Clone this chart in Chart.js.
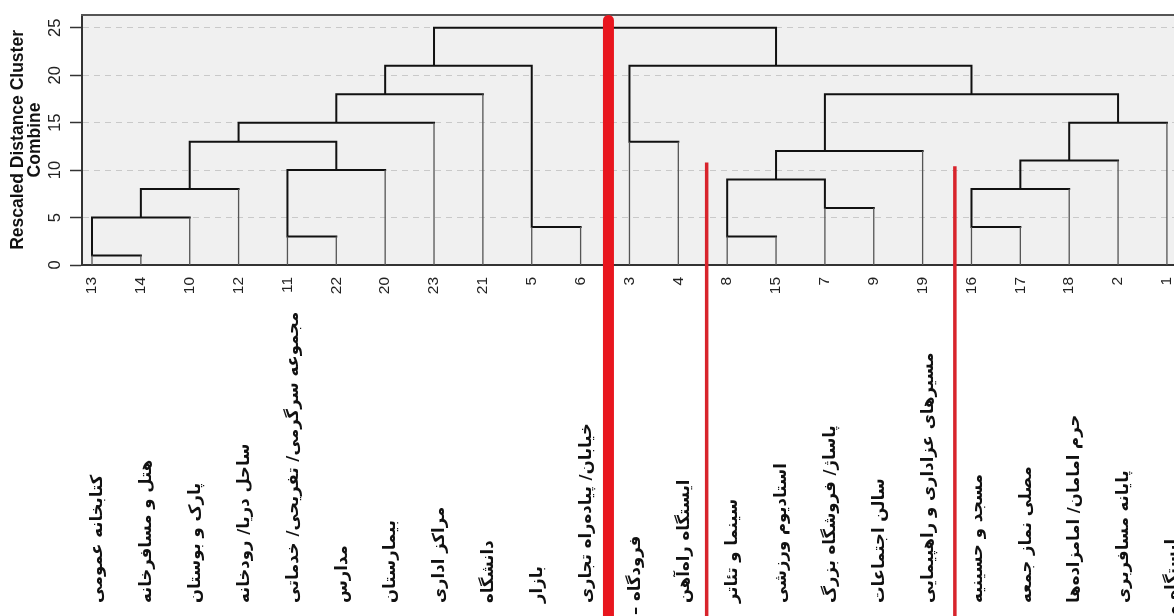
<!DOCTYPE html>
<html>
<head>
<meta charset="utf-8">
<script src="https://cdn.jsdelivr.net/npm/chart.js@4/dist/chart.umd.min.js"></script>
<style>
html,body{margin:0;padding:0;overflow:hidden;background:#fff;width:1174px;height:616px}
#wrap{width:1200px;height:616px}
</style>
</head>
<body>
<div id="wrap"><canvas id="c" width="1200" height="616"></canvas></div>
<script>
// ---- data (leaf order left to right) ----
const leafNumbers = ['13','14','10','12','11','22','20','23','21','5','6','3','4','8','15','7','9','19','16','17','18','2','1'];
const leafNames = [
  'کتابخانه عمومی',
  'هتل و مسافرخانه',
  'پارک و بوستان',
  'ساحل دریا/ رودخانه',
  'مجموعه سرگرمی/ تفریحی/ خدماتی',
  'مدارس',
  'بیمارستان',
  'مراکز اداری',
  'دانشگاه',
  'بازار',
  'خیابان/ پیاده‌راه تجاری',
  'فرودگاه –',
  'ایستگاه راه‌آهن',
  'سینما و تئاتر',
  'استادیوم ورزشی',
  'پاساژ/ فروشگاه بزرگ',
  'سالن اجتماعات',
  'مسیرهای عزاداری و راهپیمایی',
  'مسجد و حسینیه',
  'مصلی نماز جمعه',
  'حرم امامان/ امامزاده‌ها',
  'پایانه مسافربری',
  'ایستگاه مترو'
];
// merges: left/right child position (leaf-order units), child heights, merge height
const mergeLeftX  = [0,0,1,4,4,2,3,5,9,6,7,11,13,15,13,14,18,18,19,20,15,11];
const mergeLeftH  = [0,1,5,0,3,8,13,15,0,18,21,0,0,0,3,9,0,4,8,11,12,13];
const mergeRightX = [1,2,3,5,6,5,7,8,10,9,14,12,14,16,15,17,19,20,21,22,21,18];
const mergeRightH = [0,0,0,0,0,10,0,0,0,4,21,0,0,0,6,0,0,0,0,0,15,18];
const mergeHeight = [1,5,8,3,10,13,15,18,4,21,25,13,3,6,9,12,4,8,11,15,18,21];
const yTickValues = [0,5,10,15,20,25];
// red cut lines (x in leaf-order units, top in distance units)
const cutX   = [10.57, 12.58, 17.66];
const cutTop = [26.35, 10.8, 10.4];

// ---- build line data ----
const GAP = {x:null, y:null};
const links = [], stems = [];
for (let k = 0; k < mergeHeight.length; k++) {
  const xl = mergeLeftX[k], hl = mergeLeftH[k], xr = mergeRightX[k], hr = mergeRightH[k], h = mergeHeight[k];
  if (hl > 0) links.push({x:xl, y:hl});
  links.push({x:xl, y:h}, {x:xr, y:h});
  if (hr > 0) links.push({x:xr, y:hr});
  links.push(GAP);
  if (hl === 0) stems.push({x:xl, y:0}, {x:xl, y:h}, GAP);
  if (hr === 0) stems.push({x:xr, y:0}, {x:xr, y:h}, GAP);
}

const FONT = 'Liberation Sans, Arial, sans-serif';
const cutStyle = [
  {color:'#e8161e', width:11, cap:'round'},
  {color:'#d8242c', width:3.5, cap:'butt'},
  {color:'#d8242c', width:3.5, cap:'butt'}
];
const nameShift = {11: 12, 22: 40};

const deco = {
  id: 'deco',
  beforeDraw(chart) {
    const {ctx, chartArea: a} = chart;
    ctx.save();
    ctx.fillStyle = '#f0f0f0';
    ctx.fillRect(a.left, a.top, a.right - a.left, a.bottom - a.top);
    ctx.restore();
  },
  afterDraw(chart) {
    const {ctx, chartArea: a} = chart;
    const xs = chart.scales.x, ys = chart.scales.y;
    ctx.save();
    // top border
    ctx.strokeStyle = '#555';
    ctx.lineWidth = 2;
    ctx.beginPath();
    ctx.moveTo(a.left - 1, a.top);
    ctx.lineTo(a.right, a.top);
    ctx.stroke();
    // leaf names
    ctx.font = 'bold 16.5px "DejaVu Sans"';
    ctx.fillStyle = '#111';
    ctx.direction = 'rtl';
    ctx.textAlign = 'left';
    ctx.textBaseline = 'middle';
    const baseY = chart.height - 13;
    leafNames.forEach((name, i) => {
      const x = xs.getPixelForValue(i) + 6;
      ctx.save();
      ctx.translate(x, baseY + (nameShift[i] || 0));
      ctx.rotate(-Math.PI / 2);
      ctx.fillText(name, 0, 0);
      ctx.restore();
    });
    // red cut lines
    cutX.forEach((v, k) => {
      const st = cutStyle[k];
      const x = xs.getPixelForValue(v);
      let y0 = ys.getPixelForValue(cutTop[k]);
      if (st.cap === 'round') y0 += st.width / 2;
      ctx.strokeStyle = st.color;
      ctx.lineWidth = st.width;
      ctx.lineCap = st.cap;
      ctx.beginPath();
      ctx.moveTo(x, y0);
      ctx.lineTo(x, chart.height + 10);
      ctx.stroke();
    });
    ctx.restore();
  }
};

new Chart(document.getElementById('c'), {
  type: 'scatter',
  data: {
    datasets: [
      {data: stems, showLine: true, pointRadius: 0, borderColor: '#555', borderWidth: 1.3, spanGaps: false, borderCapStyle: 'butt'},
      {data: links, showLine: true, pointRadius: 0, borderColor: '#111', borderWidth: 2, spanGaps: false, borderJoinStyle: 'miter', borderCapStyle: 'square'}
    ]
  },
  options: {
    responsive: false,
    animation: false,
    devicePixelRatio: 1,
    layout: {padding: {top: 12, left: 0, right: 0, bottom: 0}},
    plugins: {legend: {display: false}, tooltip: {enabled: false}},
    scales: {
      x: {
        type: 'linear',
        min: -0.2047, max: 22.677,
        afterBuildTicks: s => { s.ticks = leafNumbers.map((_, i) => ({value: i})); },
        afterFit: s => { s.height = 351; },
        ticks: {
          autoSkip: false, minRotation: 90, maxRotation: 90, padding: 4,
          color: '#222', font: {family: FONT, size: 15.5},
          callback: v => leafNumbers[v] ?? ''
        },
        grid: {display: false},
        border: {display: true, color: '#333', width: 2}
      },
      y: {
        min: 0, max: 26.354,
        afterBuildTicks: s => { s.ticks = yTickValues.map(v => ({value: v})); },
        afterFit: s => { s.width = 82; },
        ticks: {
          minRotation: 90, maxRotation: 90, crossAlign: 'center', padding: 5,
          color: '#222', font: {family: FONT, size: 16.5}
        },
        grid: {color: '#c9c9c9', lineWidth: 1, tickColor: '#333', tickLength: 12, tickWidth: 1.5},
        border: {display: true, color: '#333', width: 2, dash: [6, 5]},
        title: {
          display: true,
          text: ['Rescaled Distance Cluster', 'Combine'],
          color: '#111',
          font: {family: FONT, size: 17.5, weight: 'bold', lineHeight: 0.95},
          padding: {top: 10, bottom: 0}
        }
      }
    }
  },
  plugins: [deco]
});
</script>
</body>
</html>
